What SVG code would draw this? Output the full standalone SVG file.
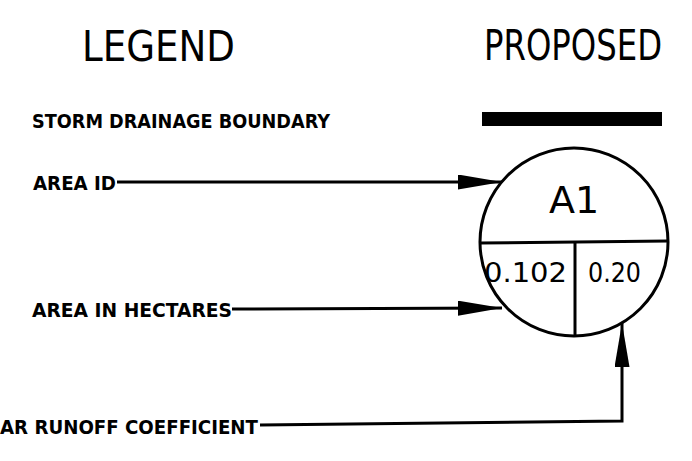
<svg xmlns="http://www.w3.org/2000/svg" width="692" height="461" viewBox="0 0 692 461">
<defs>
<style>
.title{font-family:"DejaVu Sans Condensed","DejaVu Sans",sans-serif;font-size:43px;fill:#000}
.lbl{font-family:"DejaVu Sans Condensed","DejaVu Sans",sans-serif;font-weight:bold;font-size:20px;fill:#000}
.val{font-family:"DejaVu Sans","Liberation Sans",sans-serif;fill:#000}
.ln{stroke:#000;stroke-width:3;fill:none}
</style>
<marker id="ah" viewBox="0 0 44 15" refX="44" refY="7.5" markerWidth="44" markerHeight="15" markerUnits="userSpaceOnUse" orient="auto">
<path d="M0,0 L44,7.5 L0,15 Z" fill="#000"/>
</marker>
</defs>
<rect width="692" height="461" fill="#fff"/>
<g id="legend-title"><text class="title" x="82" y="61" textLength="153" lengthAdjust="spacingAndGlyphs">LEGEND</text></g>
<g id="proposed-title"><text class="title" transform="translate(484,60) scale(0.836,1)" x="0" y="0" textLength="213" lengthAdjust="spacingAndGlyphs">PROPOSED</text></g>
<g id="storm-boundary">
<text class="lbl" x="32" y="128" textLength="298" lengthAdjust="spacingAndGlyphs">STORM  DRAINAGE  BOUNDARY</text>
<rect x="482" y="112" width="180" height="14" fill="#000"/>
</g>
<g id="area-id-label"><text class="lbl" x="33" y="190" textLength="83" lengthAdjust="spacingAndGlyphs">AREA  ID</text></g>
<g id="area-hectares-label"><text class="lbl" x="32" y="317" textLength="200" lengthAdjust="spacingAndGlyphs">AREA  IN  HECTARES</text></g>
<g id="runoff-label"><text class="lbl" x="0" y="434" textLength="258" lengthAdjust="spacingAndGlyphs">AR  RUNOFF  COEFFICIENT</text></g>
<g id="area-symbol">
<circle class="ln" cx="574" cy="242" r="94"/>
<line class="ln" x1="480" y1="243" x2="668" y2="241"/>
<line class="ln" x1="575" y1="242" x2="575" y2="336"/>
<text class="val" x="574" y="213" font-size="38" text-anchor="middle">A1</text>
<text class="val" x="484" y="282" font-size="26" textLength="83" lengthAdjust="spacingAndGlyphs">0.102</text>
<text class="val" x="588" y="282" font-size="26" textLength="53" lengthAdjust="spacingAndGlyphs">0.20</text>
</g>
<g id="connectors">
<line class="ln" x1="117" y1="182" x2="502" y2="182" marker-end="url(#ah)"/>
<line class="ln" x1="232" y1="309" x2="502" y2="308" marker-end="url(#ah)"/>
<polyline class="ln" points="260,425 622,421 622,323" marker-end="url(#ah)"/>
</g>
</svg>
